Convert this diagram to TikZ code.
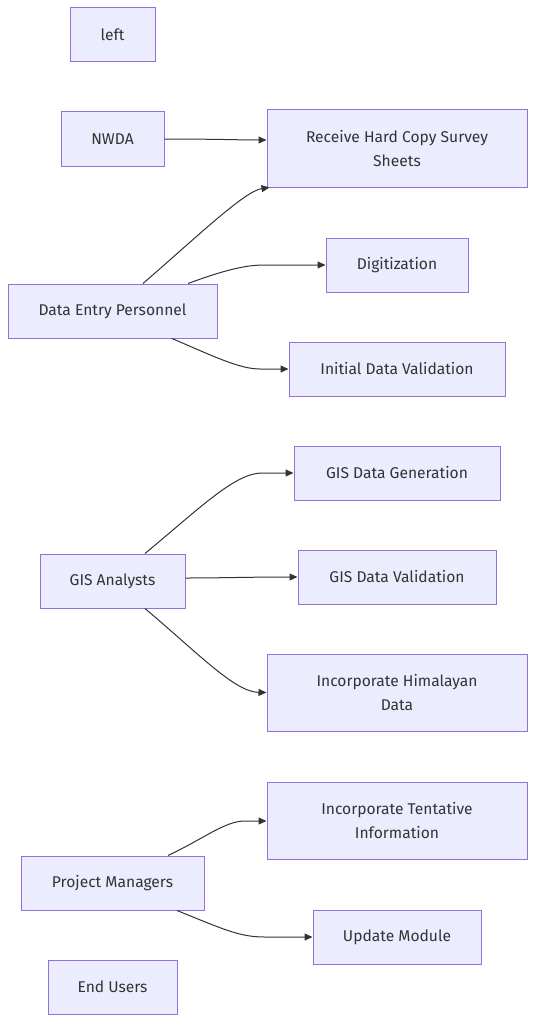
\documentclass[tikz,border=0pt]{standalone}
\usepackage{fontspec}
\setmainfont{Fira Sans}
\usetikzlibrary{arrows.meta}
\definecolor{boxfill}{HTML}{ECECFF}
\definecolor{boxline}{HTML}{9370DB}
\definecolor{txt}{HTML}{333333}
\tikzset{
  box/.style={draw=boxline, fill=boxfill, line width=1pt, text=txt, align=center,
    font=\fontsize{15.6}{24}\selectfont, inner sep=0pt},
  link/.style={draw=txt, line width=1pt, -{Triangle[length=8pt,width=7pt]}}
}
\begin{document}
\begin{tikzpicture}[x=1pt,y=-1pt]
\useasboundingbox (0,0) rectangle (535,1022);
\node[box, minimum width=85pt, minimum height=54pt] (left) at (112.5,35) {left};
\node[box, minimum width=103pt, minimum height=54pt] (nwda) at (112.5,139) {NWDA};
\node[box, minimum width=260pt, minimum height=77pt] (rec) at (397,148.5) {Receive Hard Copy Survey\\Sheets};
\node[box, minimum width=142pt, minimum height=54pt] (dig) at (397,265) {Digitization};
\node[box, minimum width=209pt, minimum height=54pt] (dep) at (112.5,311) {Data Entry Personnel};
\node[box, minimum width=216pt, minimum height=54pt] (init) at (397,369) {Initial Data Validation};
\node[box, minimum width=206pt, minimum height=54pt] (gen) at (397,473) {GIS Data Generation};
\node[box, minimum width=145pt, minimum height=54pt] (gis) at (112.5,581) {GIS Analysts};
\node[box, minimum width=198pt, minimum height=54pt] (val) at (397,577) {GIS Data Validation};
\node[box, minimum width=260pt, minimum height=77pt] (him) at (397,692.5) {Incorporate Himalayan\\Data};
\node[box, minimum width=260pt, minimum height=77pt] (tent) at (397,820.5) {Incorporate Tentative\\Information};
\node[box, minimum width=183pt, minimum height=54pt] (pm) at (112.5,883) {Project Managers};
\node[box, minimum width=168pt, minimum height=54pt] (upd) at (397,937) {Update Module};
\node[box, minimum width=129pt, minimum height=54pt] (end) at (112.5,987) {End Users};

\draw[link] (nwda.east) .. controls (215,139) and (240,140) .. ([yshift=8.5pt]rec.west);
\draw[link] ([xshift=30.5pt]dep.north) .. controls (200,234) and (245,191) .. ([xshift=3pt]rec.south west);
\draw[link] ([xshift=75.5pt]dep.north) .. controls (225,270) and (245,265) .. (265,265) -- (dig.west);
\draw[link] ([xshift=59.5pt]dep.south) .. controls (215,357) and (240,369) .. (260,369) -- (init.west);
\draw[link] ([xshift=32.5pt]gis.north) .. controls (200,508) and (235,473) .. (262,473) -- (gen.west);
\draw[link] ([yshift=3pt]gis.east) .. controls (220,578) and (250,577) .. (val.west);
\draw[link] ([xshift=32.5pt]gis.south) .. controls (200,655) and (235,692) .. (him.west);
\draw[link] ([xshift=55.5pt]pm.north) .. controls (205,838) and (225,821) .. (245,821) -- ([yshift=-0.5pt]tent.west);
\draw[link] ([xshift=64.5pt]pm.south) .. controls (225,930) and (240,937) .. (265,937) -- (upd.west);
\end{tikzpicture}
\end{document}
